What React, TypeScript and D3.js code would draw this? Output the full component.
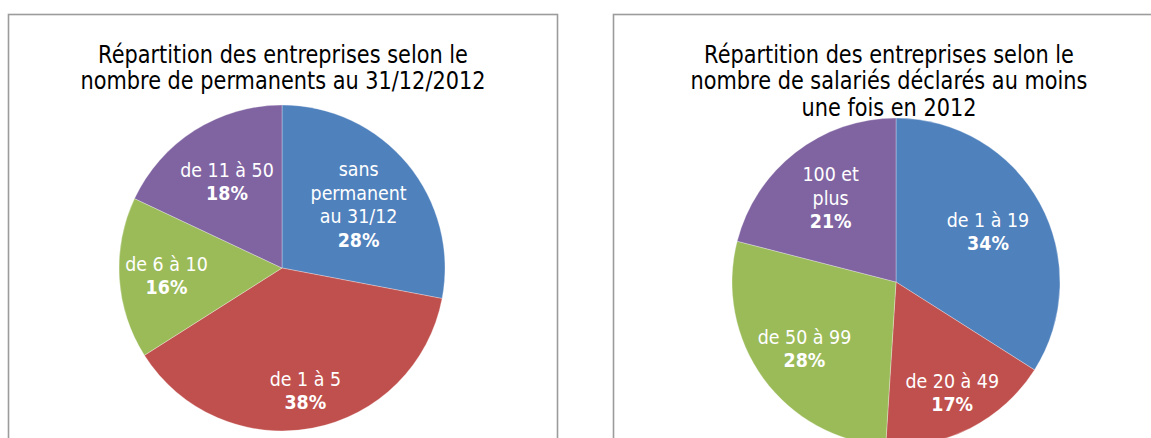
import React, { useEffect, useRef } from 'react';
import * as d3 from 'd3';

// data
const permTitle = ['Répartition des entreprises selon le', 'nombre de permanents au 31/12/2012'];
const permLabels = [['sans', 'permanent', 'au 31/12'], ['de 1 à 5'], ['de 6 à 10'], ['de 11 à 50']];
const permValues = [28, 38, 16, 18];

const salTitle = [
  'Répartition des entreprises selon le',
  'nombre de salariés déclarés au moins',
  'une fois en 2012',
];
const salLabels = [['de 1 à 19'], ['de 20 à 49'], ['de 50 à 99'], ['100 et', 'plus']];
const salValues = [34, 17, 28, 21];

const colors = ['#4F81BD', '#C0504D', '#9BBB59', '#8064A2'];

const W = 1151;
const H = 438;

type Panel = {
  title: string[];
  labels: string[][];
  values: number[];
  box: [number, number, number, number];
  cx: number;
  cy: number;
  r: number;
  titleX: number;
  labelK: number[];
};

const panels: Panel[] = [
  {
    title: permTitle,
    labels: permLabels,
    values: permValues,
    box: [8.5, 14.5, 549, 500],
    cx: 282,
    cy: 268,
    r: 163,
    titleX: 283,
    labelK: [0.61, 0.765, 0.71, 0.63],
  },
  {
    title: salTitle,
    labels: salLabels,
    values: salValues,
    box: [613.5, 14.5, 600, 500],
    cx: 896,
    cy: 282,
    r: 164,
    titleX: 889,
    labelK: [0.64, 0.755, 0.69, 0.65],
  },
];

export default function App() {
  const ref = useRef<SVGSVGElement>(null);

  useEffect(() => {
    if (!ref.current) return;
    const svg = d3.select(ref.current);
    svg.selectAll('*').remove();

    svg.append('rect').attr('width', W).attr('height', H).attr('fill', '#fff');

    panels.forEach((p) => {
      const g = svg.append('g');

      g.append('rect')
        .attr('x', p.box[0])
        .attr('y', p.box[1])
        .attr('width', p.box[2])
        .attr('height', p.box[3])
        .attr('fill', '#fff')
        .attr('stroke', '#9c9c9c')
        .attr('stroke-width', 1.6);

      // title, squeezed horizontally like the original narrow font
      const tg = g.append('g').attr('transform', `translate(${p.titleX},0)`);
      const lines = tg
        .selectAll('text')
        .data(p.title)
        .enter()
        .append('text')
        .attr('x', 0)
        .attr('y', (d, i) => 63 + i * 26.5)
        .attr('text-anchor', 'middle')
        .attr('font-family', '"DejaVu Sans", sans-serif')
        .attr('font-size', 25)
        .attr('fill', '#000')
        .text((d) => d);
      const first = lines.node() as SVGTextElement;
      const natural = first ? first.getComputedTextLength() : 370;
      const sx = 370 / natural;
      lines.attr('transform', `scale(${sx},1)`);

      const pie = d3
        .pie<number>()
        .sort(null)
        .value((d) => d);
      const arcs = pie(p.values);
      const arc = d3.arc<d3.PieArcDatum<number>>().innerRadius(0).outerRadius(p.r);

      const pg = g.append('g').attr('transform', `translate(${p.cx},${p.cy})`);
      pg.selectAll('path')
        .data(arcs)
        .enter()
        .append('path')
        .attr('d', arc)
        .attr('fill', (d, i) => colors[i])
        .attr('stroke', '#fff')
        .attr('stroke-opacity', 0.5)
        .attr('stroke-width', 0.6);

      const step = 23.5;
      arcs.forEach((a, i) => {
        const k = p.labelK[i] * p.r;
        const la = d3.arc<d3.PieArcDatum<number>>().innerRadius(k).outerRadius(k);
        const [lx, ly] = la.centroid(a);
        const rows = [...p.labels[i], `${p.values[i]}%`];
        const top = ly - ((rows.length - 1) / 2) * step + 7;
        rows.forEach((t, j) => {
          pg.append('text')
            .attr('transform', `translate(${lx},${top + j * step}) scale(0.91,1)`)
            .attr('text-anchor', 'middle')
            .attr('font-family', '"DejaVu Sans", sans-serif')
            .attr('font-size', 19.2)
            .attr('font-weight', j === rows.length - 1 ? 'bold' : 'normal')
            .attr('fill', '#fff')
            .text(t);
        });
      });
    });
  }, []);

  return (
    <svg
      ref={ref}
      width={W}
      height={H}
      style={{ position: 'absolute', left: 0, top: 0, display: 'block' }}
    />
  );
}
